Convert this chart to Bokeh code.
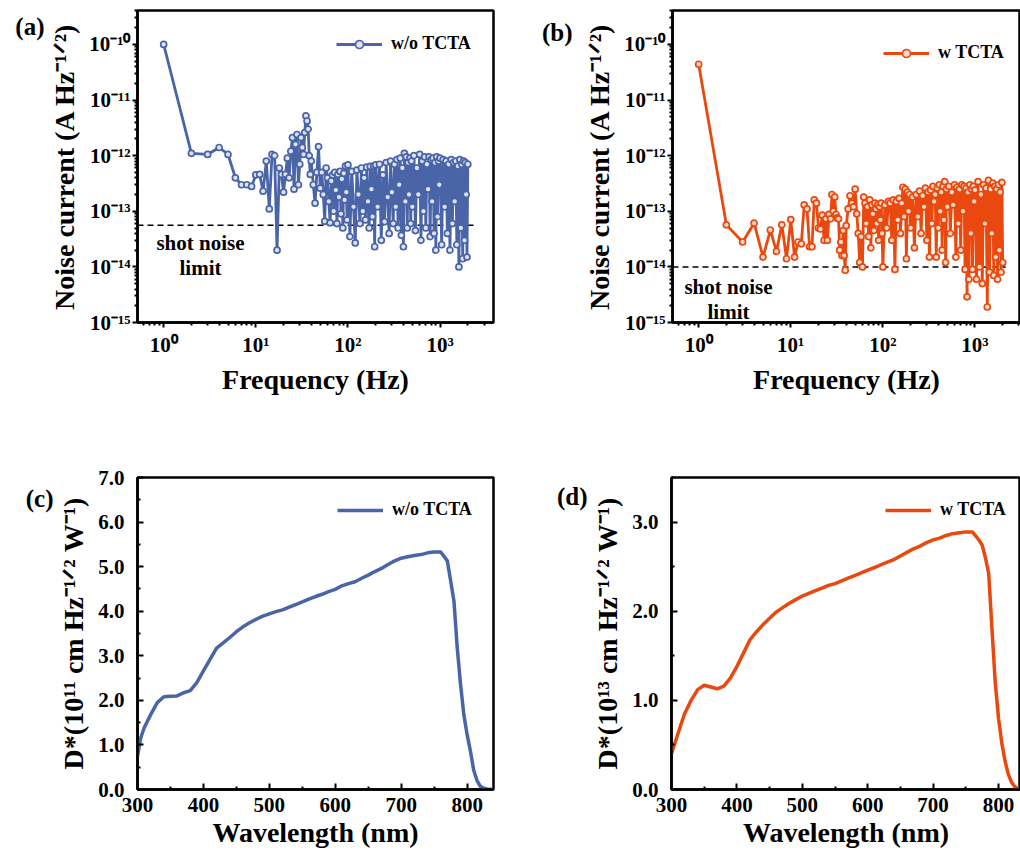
import math
from bokeh.plotting import figure
from bokeh.layouts import row, column
from bokeh.models import (FixedTicker, Range1d, Legend, LegendItem, LogAxis, LinearAxis,
                          NumeralTickFormatter)
from bokeh.core.properties import value
from bokeh.embed import file_html
from bokeh.resources import INLINE

FONT = "Liberation Serif"
BLUE = "#4a64a8"
BLUE_FILL = "#dde3f4"
ORANGE = "#e9490f"
ORANGE_FILL = "#fbdccb"

# ---------------- data: noise current spectra ----------------
freq = [
    1, 2, 3, 4, 5, 6, 7, 8, 9, 10,
    11, 12, 13, 14, 15, 16, 17, 18, 19, 20,
    21, 22, 23, 24, 25, 26, 27, 28, 29, 30,
    31, 32, 33, 34, 35, 36, 37, 38, 39, 40,
    42, 44, 46, 48, 50, 52, 54, 56, 58, 60,
    62, 64, 66, 68, 70, 72, 74, 76, 78, 80,
    82, 84, 86, 88, 90, 92, 94, 96, 98, 100,
    105, 110, 115, 120, 125, 130, 135, 140, 145, 150,
    155, 160, 165, 170, 175, 180, 185, 190, 195, 200,
    210, 220, 230, 240, 250, 260, 270, 280, 290, 300,
    310, 320, 330, 340, 350, 360, 370, 380, 390, 400,
    410, 420, 430, 440, 450, 460, 470, 480, 490, 500,
    520, 540, 560, 580, 600, 620, 640, 660, 680, 700,
    720, 740, 760, 780, 800, 820, 840, 860, 880, 900,
    920, 940, 960, 980, 1000,
    1040, 1080, 1120, 1160, 1200, 1240, 1280, 1320, 1360, 1400,
    1440, 1480, 1520, 1560, 1600, 1640, 1680, 1720, 1760, 1800,
    1840, 1880, 1920, 1960, 2000,
]

noise_wo = [
    1.0e-10, 1.1e-12, 1.05e-12, 1.4e-12, 1.05e-12, 4.0e-13, 3.0e-13, 3.0e-13, 2.8e-13, 4.5e-13,
    4.6e-13, 2.3e-13, 8.0e-13, 1.1e-13, 1.05e-12, 1.0e-12, 2.0e-14, 6.0e-13, 4.6e-13, 2.2e-13,
    4.6e-13, 9.0e-13, 4.0e-13, 1.2e-12, 2.1e-12, 2.5e-13, 1.6e-12, 2.4e-12, 3.0e-13, 7.0e-13,
    2.1e-12, 1.4e-12, 1.05e-12, 2.6e-12, 5.2e-12, 4.2e-12, 3.0e-12, 1.0e-12, 4.6e-13, 8.0e-13,
    3.0e-13, 1.4e-13, 5.0e-13, 1.45e-12, 2.6e-13, 5.0e-13, 2.0e-13, 6.6e-14, 6.0e-13, 4.0e-13,
    1.5e-13, 6.2e-14, 3.5e-13, 4.5e-13, 1.0e-13, 5.0e-13, 2.4e-13, 6.0e-14, 4.6e-13, 1.8e-13,
    5.2e-13, 9.0e-14, 3.8e-13, 5.0e-14, 4.8e-13, 1.6e-13, 6.5e-13, 2.2e-13, 7.0e-14, 6.8e-13,
    3.5e-14, 5.2e-13, 1.2e-13, 2.7e-14, 5.5e-13, 2.0e-13, 6.0e-14, 6.0e-13, 1.0e-13, 4.0e-13,
    7.0e-14, 6.2e-13, 1.5e-13, 5.0e-14, 6.4e-13, 2.5e-13, 8.0e-14, 6.5e-13, 2.3e-14, 6.8e-13,
    1.2e-13, 7.0e-13, 3.0e-14, 4.5e-13, 6.5e-14, 7.5e-13, 1.8e-13, 4.0e-14, 8.0e-13, 2.2e-13,
    6.0e-14, 7.0e-13, 1.2e-13, 8.5e-13, 5.0e-14, 3.0e-13, 9.0e-13, 3.7e-14, 6.0e-13, 2.3e-14,
    1.1e-12, 1.5e-13, 9.5e-13, 5.0e-14, 7.5e-13, 2.0e-13, 9.0e-13, 6.0e-14, 8.0e-13, 1.2e-13,
    1.0e-12, 4.5e-14, 6.0e-13, 2.0e-13, 1.05e-12, 3.0e-14, 8.0e-13, 1.0e-13, 9.5e-13, 5.0e-14,
    7.0e-13, 2.5e-13, 9.5e-13, 3.5e-14, 8.5e-13, 1.5e-13, 9.0e-13, 4.0e-14, 7.5e-13, 2.0e-14,
    9.5e-13, 8.0e-14, 8.0e-13, 3.0e-13, 9.0e-13,
    2.5e-14, 8.5e-13, 1.2e-13, 8.0e-13, 4.0e-14, 7.0e-13, 2.0e-14, 8.5e-13, 6.0e-14, 7.5e-13,
    1.5e-13, 8.0e-13, 2.5e-14, 6.5e-13, 1.0e-14, 8.5e-13, 5.0e-14, 7.0e-13, 1.4e-14, 8.0e-13,
    3.0e-14, 7.5e-13, 2.0e-13, 1.5e-14, 7.0e-13,
]

noise_w = [
    4.4e-11, 5.7e-14, 2.8e-14, 6.1e-14, 1.5e-14, 4.6e-14, 1.9e-14, 5.7e-14, 1.4e-14, 7.1e-14,
    1.5e-14, 2.8e-14, 2.6e-14, 1.3e-13, 1.1e-13, 2.3e-14, 2.3e-14, 1.6e-13, 1.4e-13, 5.0e-14,
    4.8e-14, 8.5e-14, 3.0e-14, 7.3e-14, 3.0e-14, 8.8e-14, 7.3e-14, 2.0e-13, 1.0e-13, 1.8e-13,
    8.8e-14, 7.6e-14, 7.3e-14, 2.0e-14, 2.8e-14, 1.6e-14, 4.5e-14, 1.6e-14, 8.7e-15, 5.5e-14,
    1.1e-13, 1.9e-13, 1.4e-13, 1.2e-13, 2.5e-13, 9.0e-14, 4.0e-14, 1.2e-14, 3.5e-14, 1.0e-14,
    1.8e-13, 1.4e-13, 6.0e-14, 1.2e-13, 3.5e-14, 1.6e-13, 2.2e-14, 1.3e-13, 9.0e-14, 4.5e-14,
    1.4e-13, 1.1e-13, 6.0e-14, 1.3e-13, 3.0e-14, 1.2e-13, 7.0e-14, 1.4e-13, 4.0e-14, 1.0e-14,
    1.3e-13, 5.0e-14, 1.5e-13, 1.4e-13, 3.0e-14, 1.6e-13, 9.0e-15, 1.5e-13, 7.0e-14, 1.7e-13,
    4.0e-14, 1.4e-13, 2.7e-13, 8.0e-14, 2.5e-13, 1.4e-14, 2.2e-13, 1.0e-13, 2.0e-13, 5.0e-14,
    1.8e-13, 2.2e-14, 2.0e-13, 8.0e-14, 2.3e-13, 4.0e-14, 1.9e-13, 1.2e-13, 2.6e-13, 3.0e-14,
    2.2e-13, 1.5e-14, 2.4e-13, 6.0e-14, 2.8e-13, 1.5e-13, 2.0e-13, 1.5e-14, 2.6e-13, 5.0e-14,
    3.0e-13, 1.0e-13, 2.2e-13, 2.0e-14, 2.8e-13, 7.0e-14, 3.4e-13, 1.2e-14, 2.5e-13, 1.2e-13,
    2.8e-13, 4.0e-14, 2.2e-13, 1.3e-13, 3.0e-13, 1.5e-14, 2.7e-13, 6.0e-14, 2.5e-13, 2.0e-14,
    3.0e-13, 1.0e-13, 2.8e-13, 9.0e-15, 2.6e-13, 2.9e-15, 2.2e-13, 6.0e-15, 3.0e-13, 4.0e-14,
    2.5e-13, 9.0e-15, 2.8e-13, 1.5e-13, 2.4e-13,
    6.0e-15, 3.4e-13, 1.0e-14, 2.0e-13, 5.0e-15, 3.0e-13, 6.0e-14, 2.6e-13, 1.9e-15, 3.6e-13,
    8.0e-15, 2.5e-13, 4.0e-14, 3.2e-13, 7.0e-15, 2.8e-13, 1.5e-14, 2.5e-13, 6.0e-15, 3.0e-13,
    2.0e-14, 2.2e-13, 8.0e-15, 3.3e-13, 1.2e-14,
]

shot_wo = 5.6e-14
shot_w = 1.0e-14
shot_x_wo = [0.52, 2340]
shot_x_w = [0.52, 2150]
shot_text = "shot noise\nlimit"

freq_ticks = [1, 10, 100, 1000]
freq_tick_labels = ["10\u2070", "10\u00b9", "10\u00b2", "10\u00b3"]
noise_ticks = [1e-15, 1e-14, 1e-13, 1e-12, 1e-11, 1e-10]
noise_tick_labels = ["10\u207b\u00b9\u2075", "10\u207b\u00b9\u2074", "10\u207b\u00b9\u00b3",
                     "10\u207b\u00b9\u00b2", "10\u207b\u00b9\u00b9", "10\u207b\u00b9\u2070"]

# ---------------- data: detectivity spectra ----------------
wl_c = [300, 305, 310, 320, 330, 340, 350, 360, 370, 380, 390, 400, 410, 420, 430,
        440, 450, 460, 470, 480, 490, 500, 510, 520, 530, 540, 550, 560, 570, 580,
        590, 600, 610, 620, 630, 640, 650, 660, 670, 680, 690, 700, 710, 720, 730,
        740, 750, 760, 770, 780, 785, 790, 795, 800, 805, 810, 815, 820, 825, 830, 840]
det_wo = [0.75, 1.16, 1.38, 1.68, 1.95, 2.08, 2.09, 2.10, 2.17, 2.22, 2.40, 2.66, 2.92, 3.17, 3.29,
          3.41, 3.54, 3.65, 3.74, 3.82, 3.89, 3.94, 3.99, 4.03, 4.09, 4.15, 4.21, 4.27, 4.33, 4.38,
          4.44, 4.49, 4.57, 4.62, 4.66, 4.74, 4.81, 4.89, 4.96, 5.05, 5.13, 5.19, 5.22, 5.25, 5.27,
          5.31, 5.33, 5.33, 5.13, 4.23, 3.18, 2.36, 1.68, 1.23, 0.86, 0.43, 0.20, 0.07, 0.03, 0.01, 0.0]

wl_d = [300, 310, 320, 330, 340, 350, 360, 370, 380, 390, 400, 410, 420, 430, 440,
        450, 460, 470, 480, 490, 500, 510, 520, 530, 540, 550, 560, 570, 580, 590,
        600, 610, 620, 630, 640, 650, 660, 670, 680, 690, 700, 710, 720, 730, 740,
        750, 760, 770, 775, 780, 785, 790, 795, 800, 805, 810, 815, 820, 825, 830]
det_w = [0.40, 0.63, 0.85, 1.00, 1.12, 1.17, 1.15, 1.13, 1.16, 1.25, 1.38, 1.53, 1.68, 1.77, 1.85,
         1.92, 1.99, 2.04, 2.09, 2.13, 2.17, 2.20, 2.23, 2.26, 2.29, 2.31, 2.34, 2.37, 2.40, 2.43,
         2.46, 2.49, 2.52, 2.55, 2.58, 2.62, 2.66, 2.70, 2.73, 2.77, 2.80, 2.82, 2.85, 2.87, 2.88,
         2.89, 2.89, 2.80, 2.74, 2.60, 2.42, 1.80, 1.20, 0.80, 0.52, 0.32, 0.17, 0.08, 0.03, 0.01]

wl_ticks = [300, 400, 500, 600, 700, 800]


def frame_point(p, fw, fh, dx, dy, logx=False, logy=False):
    """data coordinates of a point dx px right of frame left, dy px below frame top"""
    xs, xe = p.x_range.start, p.x_range.end
    ys, ye = p.y_range.start, p.y_range.end
    fx = dx / fw
    fy = 1 - dy / fh
    if logx:
        x = 10 ** (math.log10(xs) + fx * (math.log10(xe) - math.log10(xs)))
    else:
        x = xs + fx * (xe - xs)
    if logy:
        y = 10 ** (math.log10(ys) + fy * (math.log10(ye) - math.log10(ys)))
    else:
        y = ys + fy * (ye - ys)
    return x, y


def add_text(p, fw, fh, dx, dy, txt, size, logx=False, logy=False):
    x, y = frame_point(p, fw, fh, dx, dy, logx, logy)
    p.text(x=[x], y=[y], text=[txt], text_font=value(FONT), text_font_style="bold",
           text_font_size=size, text_color="black", text_align="center",
           text_baseline="top", text_line_height=1.05)


def add_tag(p, fw, fh, dy, txt, log, standoff):
    # panel tag "(a)" etc.: an extra, line-less axis on the left whose single label is the tag
    _, yv = frame_point(p, fw, fh, 0, dy, False, log)
    ax = (LogAxis if log else LinearAxis)(ticker=FixedTicker(ticks=[yv], minor_ticks=[]))
    ax.major_label_overrides = {yv: txt}
    ax.axis_line_color = None
    ax.major_tick_line_color = None
    ax.minor_tick_line_color = None
    ax.major_tick_in = 0
    ax.major_tick_out = 0
    ax.minor_tick_in = 0
    ax.minor_tick_out = 0
    ax.major_label_standoff = standoff
    ax.major_label_text_font = FONT
    ax.major_label_text_font_style = "bold"
    ax.major_label_text_font_size = "25px"
    ax.major_label_text_color = "black"
    p.add_layout(ax, "left")


def style_axes(p, inside):
    p.outline_line_color = "black"
    p.outline_line_width = 2.5
    p.outline_line_alpha = 1
    p.grid.visible = False
    p.background_fill_color = "white"
    p.border_fill_color = "white"
    for ax in (p.xaxis[0], p.yaxis[0]):
        ax.axis_line_color = "black"
        ax.axis_line_width = 2.5
        ax.major_tick_line_color = "black"
        ax.major_tick_line_width = 2
        ax.minor_tick_line_color = "black"
        ax.minor_tick_line_width = 2
        if inside:
            ax.major_tick_in = 6
            ax.major_tick_out = 0
            ax.minor_tick_in = 3
            ax.minor_tick_out = 0
        else:
            ax.major_tick_in = 0
            ax.major_tick_out = 5
            ax.minor_tick_in = 0
            ax.minor_tick_out = 3
        ax.major_label_text_font = FONT
        ax.major_label_text_font_style = "bold"
        ax.major_label_text_font_size = "21px"
        ax.major_label_text_color = "black"
        ax.axis_label_text_font = FONT
        ax.axis_label_text_font_style = "bold"
        ax.axis_label_text_font_size = "28px"
        ax.axis_label_text_color = "black"


def add_legend(p, items, x, y):
    leg = Legend(items=items, location=(x, y), glyph_width=46, glyph_height=20,
                 label_height=20, label_standoff=9, padding=5, margin=0,
                 border_line_alpha=0, background_fill_alpha=0,
                 label_text_font=FONT, label_text_font_style="bold",
                 label_text_font_size="18px", label_text_color="black")
    p.add_layout(leg)


def noise_panel(values, color, fill, shot, shot_x, name, width, bl, br, xmax, leg_xy):
    fw = width - bl - br
    fh = 312
    p = figure(width=width, height=466, x_axis_type="log", y_axis_type="log",
               x_range=Range1d(0.52, xmax), y_range=Range1d(1e-15, 4.07e-10),
               min_border_left=bl, min_border_right=br, min_border_top=10,
               min_border_bottom=144, output_backend="svg", toolbar_location=None)
    style_axes(p, inside=False)
    minor_x = [k * 10 ** e for e in range(-1, 4) for k in range(2, 10)]
    minor_y = [k * 10.0 ** e for e in range(-15, -9) for k in range(2, 10)]
    p.xaxis.ticker = FixedTicker(ticks=freq_ticks, minor_ticks=minor_x)
    p.yaxis.ticker = FixedTicker(ticks=noise_ticks, minor_ticks=minor_y)
    p.xaxis.major_label_overrides = dict(zip(freq_ticks, freq_tick_labels))
    p.yaxis.major_label_overrides = dict(zip(noise_ticks, noise_tick_labels))
    p.xaxis.major_label_standoff = 5
    p.yaxis.major_label_standoff = 2
    p.xaxis.axis_label = "Frequency (Hz)"
    p.yaxis.axis_label = "Noise current (A Hz\u207b\u00b9\u141f\u00b2)"
    p.xaxis.axis_label_standoff = 4
    p.yaxis.axis_label_standoff = 6

    p.line(shot_x, [shot, shot], line_color="black", line_width=1.5, line_dash="6 4")
    lr = p.line(freq, values, line_color=color, line_width=2.8)
    sr = p.scatter(freq, values, size=6, marker="circle", fill_color=fill,
                   line_color=color, line_width=1.7)
    add_legend(p, [LegendItem(label=name, renderers=[lr, sr])], *leg_xy)
    return p, fw, fh


# ---- panel (a)
pa, fwa, fha = noise_panel(noise_wo, BLUE, BLUE_FILL, shot_wo, shot_x_wo, "w/o TCTA",
                           530, 137, 37, 3800, (194, 263))
add_text(pa, fwa, fha, 63, 220, shot_text, "21px", True, True)
add_tag(pa, fwa, fha, 16, "(a)", True, 2)

# ---- panel (b)
pb, fwb, fhb = noise_panel(noise_w, ORANGE, ORANGE_FILL, shot_w, shot_x_w, "w TCTA",
                           490, 142, 0, 3120, (206, 254))
add_text(pb, fwb, fhb, 56, 264, shot_text, "21px", True, True)
add_tag(pb, fwb, fhb, 22, "(b)", True, 9)


def det_panel(wl, vals, color, name, width, bl, br, top, xmax, ymax, yticks, ylabel,
              leg_xy):
    fw = width - bl - br
    fh = 385 - top - 62
    p = figure(width=width, height=385, x_range=Range1d(300, xmax), y_range=Range1d(0, ymax),
               min_border_left=bl, min_border_right=br, min_border_top=top,
               min_border_bottom=62, output_backend="svg", toolbar_location=None)
    style_axes(p, inside=True)
    p.xaxis.ticker = FixedTicker(ticks=wl_ticks, minor_ticks=[350, 450, 550, 650, 750])
    p.yaxis.ticker = FixedTicker(ticks=yticks,
                                 minor_ticks=[t + 0.5 for t in yticks])
    p.yaxis.formatter = NumeralTickFormatter(format="0.0")
    p.xaxis.major_label_standoff = 8
    p.yaxis.major_label_standoff = 13
    p.xaxis.axis_label = "Wavelength (nm)"
    p.yaxis.axis_label = ylabel
    p.xaxis.axis_label_standoff = 2
    p.yaxis.axis_label_standoff = 6
    lr = p.line(wl, vals, line_color=color, line_width=3.5)
    add_legend(p, [LegendItem(label=name, renderers=[lr])], *leg_xy)
    return p, fw, fh


pc, fwc, fhc = det_panel(wl_c, det_wo, BLUE, "w/o TCTA", 530, 137, 37, 10, 840, 7.0,
                         [0, 1, 2, 3, 4, 5, 6, 7],
                         "D*(10\u00b9\u00b9 cm Hz\u207b\u00b9\u141f\u00b2 W\u207b\u00b9)",
                         (195, 264))
add_tag(pc, fwc, fhc, 21, "(c)", False, 2)

pd, fwd, fhd = det_panel(wl_d, det_w, ORANGE, "w TCTA", 490, 141, 0, 11, 833.6, 3.5,
                         [0, 1, 2, 3],
                         "D*(10\u00b9\u00b3 cm Hz\u207b\u00b9\u141f\u00b2 W\u207b\u00b9)",
                         (209, 264))
add_tag(pd, fwd, fhd, 19, "(d)", False, 2)

layout = column(row(pa, pb), row(pc, pd))
open("out.html", "w").write(file_html(layout, INLINE))
